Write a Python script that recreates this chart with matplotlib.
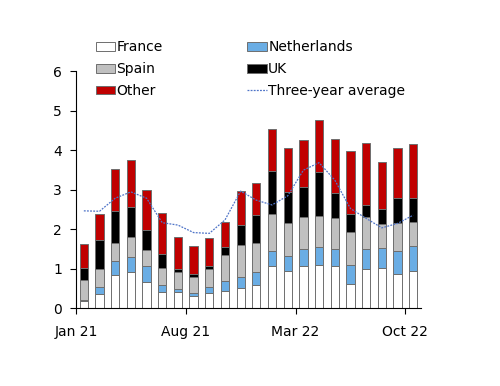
import numpy as np
import matplotlib
matplotlib.use("Agg")
import matplotlib.pyplot as plt

months = ["Jan 21", "Feb 21", "Mar 21", "Apr 21", "May 21", "Jun 21", "Jul 21",
          "Aug 21", "Sep 21", "Oct 21", "Nov 21", "Dec 21", "Jan 22", "Feb 22",
          "Mar 22", "Apr 22", "May 22", "Jun 22", "Jul 22", "Aug 22", "Sep 22", "Oct 22"]
france = [0.18, 0.35, 0.84, 0.90, 0.65, 0.41, 0.40, 0.30, 0.37, 0.43, 0.51,
          0.58, 1.07, 0.93, 1.07, 1.10, 1.06, 0.61, 0.99, 1.02, 0.86, 0.94]
netherlands = [0.02, 0.19, 0.35, 0.39, 0.42, 0.17, 0.08, 0.09, 0.17, 0.26, 0.28,
               0.33, 0.37, 0.39, 0.43, 0.45, 0.43, 0.48, 0.50, 0.50, 0.58, 0.63]
spain = [0.51, 0.45, 0.45, 0.52, 0.40, 0.44, 0.43, 0.40, 0.44, 0.64, 0.81,
         0.74, 0.94, 0.82, 0.80, 0.79, 0.79, 0.83, 0.82, 0.61, 0.70, 0.61]
uk = [0.31, 0.73, 0.82, 0.76, 0.50, 0.36, 0.07, 0.06, 0.08, 0.22, 0.50,
      0.70, 1.09, 0.81, 0.77, 1.10, 0.64, 0.47, 0.29, 0.38, 0.64, 0.60]
other = [0.60, 0.65, 1.07, 1.17, 1.03, 1.03, 0.83, 0.73, 0.72, 0.62, 0.87,
         0.81, 1.07, 1.10, 1.18, 1.32, 1.35, 1.59, 1.58, 1.19, 1.26, 1.37]
three_year_avg = [2.46, 2.45, 2.78, 2.94, 2.78, 2.16, 2.10, 1.91, 1.89, 2.23, 2.96,
                  2.73, 2.61, 2.84, 3.49, 3.68, 3.24, 2.52, 2.27, 2.03, 2.14, 2.35]
tick_labels = ["Jan 21", "Aug 21", "Mar 22", "Oct 22"]

plt.rcParams['font.family'] = ['DejaVu Sans']

fig = plt.figure(figsize=(5, 3.86), dpi=100)
ax = fig.add_axes([0.152, 0.202, 0.69, 0.614])

x = np.arange(len(months))
w = 0.53
series = [("France", france, "white"),
          ("Netherlands", netherlands, "#6aade4"),
          ("Spain", spain, "#c0c0c0"),
          ("UK", uk, "black"),
          ("Other", other, "#c00000")]
bottom = np.zeros(len(months))
handles = {}
for name, vals, col in series:
    vals = np.array(vals)
    b = ax.bar(x, vals, w, bottom=bottom, color=col, edgecolor="#6e6e6e",
               linewidth=0.7, label=name)
    handles[name] = b
    bottom += vals

line, = ax.plot(x, three_year_avg, color="#4f74c8", linestyle=(0, (1.5, 1)),
                linewidth=0.9, label="Three-year average")
handles["Three-year average"] = line

ax.set_xlim(-0.5, len(months) - 0.5)
ax.set_ylim(0, 6)
ax.set_yticks(range(0, 7))
ax.set_xticks([months.index(t) - 0.5 for t in tick_labels])
ax.set_xticklabels(tick_labels)
ax.tick_params(axis='both', labelsize=10, direction='out', length=4, width=0.8)
ax.tick_params(axis='x', pad=8)
ax.tick_params(axis='y', pad=6)
for s in ["top", "right"]:
    ax.spines[s].set_visible(False)

order = ["France", "Spain", "Other", "Netherlands", "UK", "Three-year average"]
fig.legend([handles[k] for k in order], order, ncol=2, loc="upper left",
           bbox_to_anchor=(0.18, 0.91), frameon=False, fontsize=10,
           handlelength=1.4, handleheight=0.6, handletextpad=0.1,
           columnspacing=6.1, labelspacing=0.56, borderaxespad=0)

fig.savefig("out.png", dpi=100)
